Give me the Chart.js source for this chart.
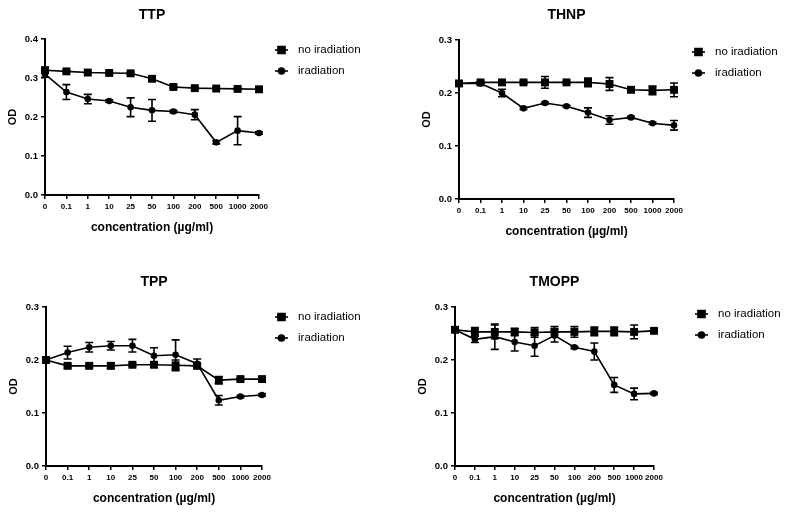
<!DOCTYPE html>
<html>
<head>
<meta charset="utf-8">
<script src="https://cdn.jsdelivr.net/npm/chart.js@4/dist/chart.umd.min.js"></script>
<style>
  body { margin: 0; background: #fff; width: 787px; height: 516px; overflow: hidden; position: relative; }
  canvas { position: absolute; }
</style>
</head>
<body>
<div id="wrap"></div>
<script>
// concentration categories (µg/ml)
const conc = ['0', '0.1', '1', '10', '25', '50', '100', '200', '500', '1000', '2000']
const seriesLabels = ['no iradiation', 'iradiation']

// TTP
const ttpNo     = [0.320, 0.317, 0.314, 0.313, 0.312, 0.298, 0.277, 0.274, 0.273, 0.272, 0.271]
const ttpNoErr  = [0.007, 0.003, 0.002, 0.002, 0.003, 0.003, 0.003, 0.002, 0.002, 0.002, 0.003]
const ttpIrr    = [0.310, 0.264, 0.246, 0.241, 0.225, 0.217, 0.214, 0.206, 0.135, 0.165, 0.159]
const ttpIrrErr = [0.008, 0.019, 0.012, 0.003, 0.024, 0.028, 0.003, 0.013, 0.004, 0.036, 0.003]

// THNP
const thnpNo     = [0.218, 0.220, 0.220, 0.220, 0.220, 0.220, 0.220, 0.217, 0.206, 0.205, 0.206]
const thnpNoErr  = [0.003, 0.002, 0.002, 0.002, 0.011, 0.002, 0.008, 0.012, 0.003, 0.008, 0.013]
const thnpIrr    = [0.218, 0.218, 0.200, 0.171, 0.181, 0.175, 0.163, 0.149, 0.154, 0.143, 0.139]
const thnpIrrErr = [0.003, 0.002, 0.007, 0.002, 0.002, 0.002, 0.009, 0.008, 0.002, 0.002, 0.009]

// TPP
const tppNo     = [0.200, 0.189, 0.189, 0.189, 0.191, 0.191, 0.190, 0.189, 0.162, 0.164, 0.164]
const tppNoErr  = [0.005, 0.004, 0.003, 0.005, 0.003, 0.004, 0.010, 0.004, 0.007, 0.002, 0.002]
const tppIrr    = [0.200, 0.214, 0.224, 0.227, 0.227, 0.208, 0.210, 0.193, 0.124, 0.131, 0.134]
const tppIrrErr = [0.005, 0.012, 0.009, 0.008, 0.012, 0.015, 0.028, 0.009, 0.009, 0.002, 0.002]

// TMOPP
const tmoppNo     = [0.257, 0.253, 0.253, 0.253, 0.252, 0.253, 0.253, 0.254, 0.254, 0.253, 0.255]
const tmoppNoErr  = [0.004, 0.008, 0.013, 0.007, 0.009, 0.010, 0.010, 0.008, 0.008, 0.013, 0.002]
const tmoppIrr    = [0.257, 0.239, 0.244, 0.234, 0.227, 0.246, 0.224, 0.216, 0.153, 0.136, 0.137]
const tmoppIrrErr = [0.004, 0.006, 0.024, 0.017, 0.020, 0.012, 0.002, 0.016, 0.014, 0.011, 0.002]

const FONT = "'Liberation Sans', Arial, sans-serif"

// vertical error bars with caps, drawn through the y scale
const errorBars = {
  id: 'errorBars',
  beforeDatasetsDraw(chart) {
    const ctx = chart.ctx
    const yScale = chart.scales.y
    ctx.save()
    ctx.strokeStyle = '#000'
    ctx.lineWidth = 1.6
    chart.data.datasets.forEach((ds, i) => {
      const meta = chart.getDatasetMeta(i)
      meta.data.forEach((pt, j) => {
        const e = ds.errors[j]
        const v = ds.data[j]
        const yt = yScale.getPixelForValue(v + e)
        const yb = yScale.getPixelForValue(v - e)
        ctx.beginPath()
        ctx.moveTo(pt.x, yt); ctx.lineTo(pt.x, yb)
        ctx.moveTo(pt.x - 4, yt); ctx.lineTo(pt.x + 4, yt)
        ctx.moveTo(pt.x - 4, yb); ctx.lineTo(pt.x + 4, yb)
        ctx.stroke()
      })
    })
    ctx.restore()
  }
}

// legend with a short line through the marker, like the original
const lineLegend = {
  id: 'lineLegend',
  afterDraw(chart, args, opts) {
    const {ctx, chartArea} = chart
    ctx.save()
    chart.data.datasets.forEach((ds, i) => {
      const y = chartArea.top + opts.top + i * 21
      const x0 = chartArea.right + opts.left
      ctx.strokeStyle = '#000'
      ctx.fillStyle = '#000'
      ctx.lineWidth = 1.6
      ctx.beginPath()
      ctx.moveTo(x0, y); ctx.lineTo(x0 + 13, y)
      ctx.stroke()
      Chart.helpers.drawPoint(ctx, {
        pointStyle: ds.pointStyle,
        radius: ds.pointStyle === 'rect' ? 5 : 3,
        borderWidth: 1,
        rotation: 0
      }, x0 + 6.5, y)
      ctx.font = '11.5px ' + FONT
      ctx.textBaseline = 'middle'
      ctx.textAlign = 'left'
      ctx.fillText(ds.label, x0 + 23, y)
    })
    ctx.restore()
  }
}

const panels = [
  { title: 'TTP',   no: ttpNo,   noErr: ttpNoErr,   irr: ttpIrr,   irrErr: ttpIrrErr,   yMax: 0.4,
    plot: [45, 39, 259, 195],  titleY: 15,  right: 393, leg: [16, 11] },
  { title: 'THNP',  no: thnpNo,  noErr: thnpNoErr,  irr: thnpIrr,  irrErr: thnpIrrErr,  yMax: 0.3,
    plot: [459, 40, 674, 199], titleY: 15,  right: 787, leg: [18, 12] },
  { title: 'TPP',   no: tppNo,   noErr: tppNoErr,   irr: tppIrr,   irrErr: tppIrrErr,   yMax: 0.3,
    plot: [46, 307, 262, 466], titleY: 282, right: 393, leg: [13, 10] },
  { title: 'TMOPP', no: tmoppNo, noErr: tmoppNoErr, irr: tmoppIrr, irrErr: tmoppIrrErr, yMax: 0.3,
    plot: [455, 307, 654, 466], titleY: 282, right: 787, leg: [41, 7] }
]

const wrap = document.getElementById('wrap')

panels.forEach(p => {
  const left = p.plot[0] - 45
  const top = p.titleY - 15
  const width = p.right - left
  const height = p.plot[3] + 55 - top
  const cv = document.createElement('canvas')
  cv.width = width
  cv.height = height
  cv.style.left = left + 'px'
  cv.style.top = top + 'px'
  cv.style.width = width + 'px'
  cv.style.height = height + 'px'
  wrap.appendChild(cv)

  const titleBoxH = p.plot[1] - top

  new Chart(cv, {
    type: 'line',
    data: {
      labels: conc,
      datasets: [{
        label: seriesLabels[0],
        data: p.no,
        errors: p.noErr,
        borderColor: '#000',
        backgroundColor: '#000',
        borderWidth: 1.6,
        pointStyle: 'rect',
        pointRadius: 5.6,
        pointBorderWidth: 0,
        fill: false,
        tension: 0,
        clip: false
      }, {
        label: seriesLabels[1],
        data: p.irr,
        errors: p.irrErr,
        borderColor: '#000',
        backgroundColor: '#000',
        borderWidth: 1.6,
        pointStyle: 'circle',
        pointRadius: 3.3,
        pointBorderWidth: 0,
        fill: false,
        tension: 0,
        clip: false
      }]
    },
    options: {
      responsive: false,
      animation: false,
      devicePixelRatio: 1,
      layout: { padding: { left: 0, top: 0, right: p.right - p.plot[2], bottom: 0 } },
      plugins: {
        legend: { display: false },
        tooltip: { enabled: false },
        title: {
          display: true,
          text: p.title,
          fullSize: false,
          color: '#000',
          font: { family: FONT, size: 14, weight: 'bold', lineHeight: 1.2 },
          padding: { top: 6.6, bottom: titleBoxH - 6.6 - 16.8 }
        },
        lineLegend: { left: p.leg[0], top: p.leg[1] }
      },
      scales: {
        x: {
          type: 'category',
          offset: false,
          afterFit(scale) { scale.height = 55 },
          grid: { drawOnChartArea: false, drawTicks: true, tickLength: 4, color: '#000', lineWidth: 1.5 },
          border: { display: true, color: '#000', width: 2 },
          ticks: {
            color: '#000', padding: 3, maxRotation: 0, autoSkip: false,
            font: { family: FONT, size: 8, weight: 'bold' }
          },
          title: {
            display: true,
            text: 'concentration (µg/ml)',
            color: '#000',
            font: { family: FONT, size: 12, weight: 'bold', lineHeight: 1.2 },
            padding: { top: 0, bottom: 15 }
          }
        },
        y: {
          min: 0,
          max: p.yMax,
          afterFit(scale) { scale.width = 45 },
          grid: { drawOnChartArea: false, drawTicks: true, tickLength: 4, color: '#000', lineWidth: 1.5 },
          border: { display: true, color: '#000', width: 2 },
          ticks: {
            stepSize: 0.1, color: '#000', padding: 3,
            callback: v => v.toFixed(1),
            font: { family: FONT, size: 9.5, weight: 'bold' }
          },
          title: {
            display: true,
            text: 'OD',
            color: '#000',
            font: { family: FONT, size: 11, weight: 'bold', lineHeight: 1.2 },
            padding: { top: 6.4, bottom: 0 }
          }
        }
      }
    },
    plugins: [errorBars, lineLegend]
  })
})
</script>
</body>
</html>
